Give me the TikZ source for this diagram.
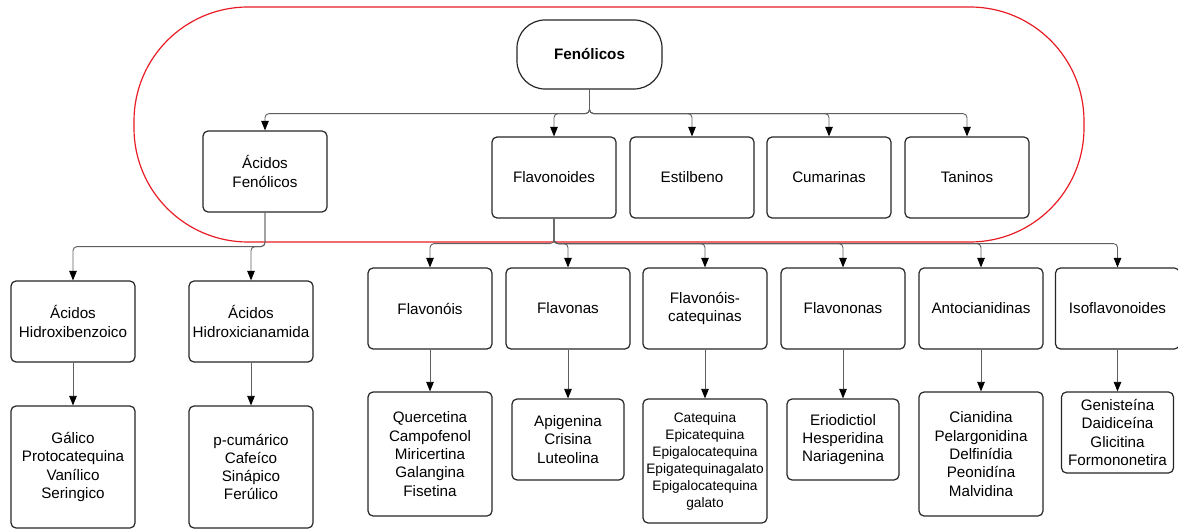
\documentclass[tikz,border=0pt]{standalone}
\usepackage{fontspec}
\setmainfont{Liberation Sans}
\usetikzlibrary{arrows.meta}
\definecolor{framered}{RGB}{232,28,36}
\definecolor{linegray}{RGB}{95,95,95}
\begin{document}
\begin{tikzpicture}[x=0.5pt, y=-0.5pt,
    box/.style = {draw=black!85, line width=0.6pt, rounded corners=2.5pt, fill=white, align=center,
      minimum width=62pt, minimum height=40.5pt, inner sep=1pt, font=\fontsize{7.6}{9.15}\selectfont},
    tall/.style = {box, minimum height=62pt},
    small/.style = {box, minimum width=56pt},
    conn/.style = {draw=linegray, line width=0.45pt, rounded corners=2pt,
      -{Triangle[length=4.8pt, width=3.8pt, color=black]}}]
  \useasboundingbox (0,0) rectangle (1178,529);
  \draw[framered, line width=0.6pt, rounded corners=57pt] (134,7) rectangle (1084,242);
  %
  \node[box, rounded corners=14pt, minimum width=72.5pt, minimum height=34.5pt,
    font=\bfseries\fontsize{7.6}{9.15}\selectfont] (fen) at (589.5,54.5) {Fenólicos};
  \node[box] (acf) at (265,171.5) {Ácidos\\Fenólicos};
  \node[box] (flv) at (554,177.5) {Flavonoides};
  \node[box] (est) at (692,177.5) {Estilbeno};
  \node[box] (cum) at (829,177.5) {Cumarinas};
  \node[box] (tan) at (967,177.5) {Taninos};
  %
  \node[box] (ahb) at (73,321.5) {Ácidos\\Hidroxibenzoico};
  \node[box] (ahc) at (251,321.5) {Ácidos\\Hidroxicianamida};
  \node[box] (fls) at (430,308.5) {Flavonóis};
  \node[box] (fns) at (568,308.5) {Flavonas};
  \node[box] (fct) at (705,308.5) {Flavonóis-\\catequinas};
  \node[box] (fno) at (843,308.5) {Flavononas};
  \node[box] (ant) at (981,308.5) {Antocianidinas};
  \node[box] (iso) at (1117.5,308.5) {Isoflavonoides};
  %
  \node[box, minimum height=61pt] (gal) at (73,467) {Gálico\\Protocatequina\\Vanílico\\Seringico};
  \node[box, minimum height=61pt] (pcu) at (251,467) {p-cumárico\\Cafeíco\\Sinápico\\Ferúlico};
  \node[tall] (que) at (430,454) {Quercetina\\Campofenol\\Miricertina\\Galangina\\Fisetina};
  \node[small] (api) at (568,439.5) {Apigenina\\Crisina\\Luteolina};
  \node[tall, font=\fontsize{6.85}{8.5}\selectfont] (cat) at (705,461)
    {Catequina\\Epicatequina\\Epigalocatequina\\Epigatequinagalato\\Epigalocatequina\\galato};
  \node[small] (eri) at (843,439.5) {Eriodictiol\\Hesperidina\\Nariagenina};
  \node[tall] (cia) at (981,454) {Cianidina\\Pelargonidina\\Delfinídia\\Peonidína\\Malvidina};
  \node[small] (gen) at (1117.5,432.5) {Genisteína\\Daidiceína\\Glicitina\\Formononetira};
  %
  \foreach \t in {acf,flv,est,cum,tan}
    \draw[conn] (fen.south) -- ++(0,24) -| (\t.north);
  \foreach \t in {ahb,ahc}
    \draw[conn] (acf.south) -- ++(0,34) -| (\t.north);
  \foreach \t in {fls,fns,fct,fno,ant,iso}
    \draw[conn] (flv.south) -- ++(0,25) -| (\t.north);
  %
  \draw[conn] (ahb) -- (gal);
  \draw[conn] (ahc) -- (pcu);
  \draw[conn] (fls) -- (que);
  \draw[conn] (fns) -- (api);
  \draw[conn] (fct) -- (cat);
  \draw[conn] (fno) -- (eri);
  \draw[conn] (ant) -- (cia);
  \draw[conn] (iso) -- (gen);
\end{tikzpicture}
\end{document}
